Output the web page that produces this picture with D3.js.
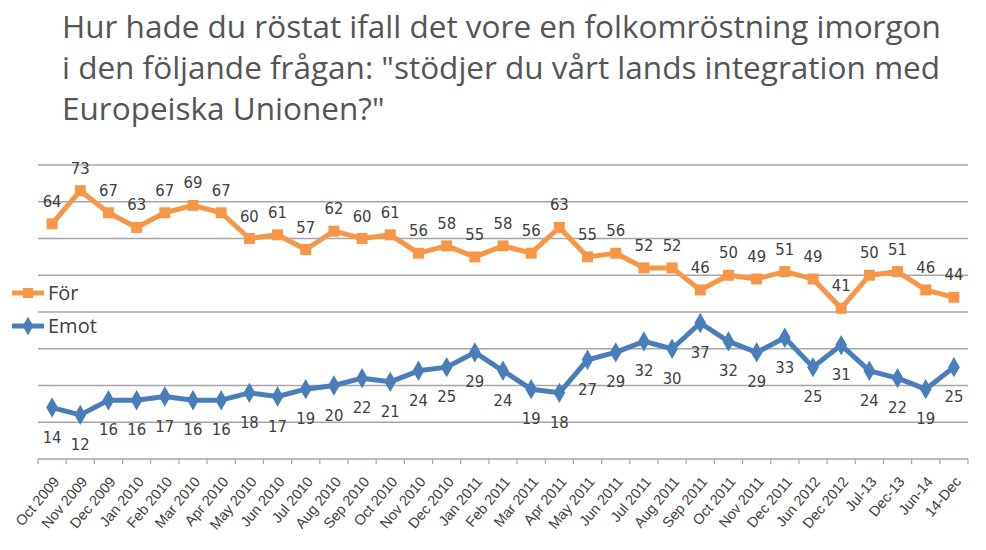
<!DOCTYPE html>
<html>
<head>
<meta charset="utf-8">
<script src="https://cdn.jsdelivr.net/npm/d3@7"></script>
<style>
  body { margin: 0; background: #fff; }
  svg { display: block; }
</style>
</head>
<body>
<div id="chart"></div>
<script>
// categories and values
const months = ["Oct 2009","Nov 2009","Dec 2009","Jan 2010","Feb 2010","Mar 2010","Apr 2010","May 2010","Jun 2010","Jul 2010","Aug 2010","Sep 2010","Oct 2010","Nov 2010","Dec 2010","Jan 2011","Feb 2011","Mar 2011","Apr 2011","May 2011","Jun 2011","Jul 2011","Aug 2011","Sep 2011","Oct 2011","Nov 2011","Dec 2011","Jun 2012","Dec 2012","Jul-13","Dec-13","Jun-14","14-Dec"];
const forVals = [64,73,67,63,67,69,67,60,61,57,62,60,61,56,58,55,58,56,63,55,56,52,52,46,50,49,51,49,41,50,51,46,44];
const emotVals = [14,12,16,16,17,16,16,18,17,19,20,22,21,24,25,29,24,19,18,27,29,32,30,37,32,29,33,25,31,24,22,19,25];
const titleLines = ["Hur hade du röstat ifall det vore en folkomröstning imorgon",
  "i den följande frågan: \"stödjer du vårt lands integration med",
  "Europeiska Unionen?\""];
const gridTicks = [0,10,20,30,40,50,60,70,80];

const W = 986, H = 550;
const margin = {top: 165, right: 18, bottom: 91, left: 38};

const svg = d3.select("#chart").append("svg")
  .attr("width", W).attr("height", H);

// title
svg.append("g").selectAll("text")
  .data(titleLines)
  .join("text")
    .attr("x", 62)
    .attr("y", (d, i) => 38 + i * 41)
    .attr("font-family", "'Open Sans', sans-serif")
    .attr("font-size", 31.5)
    .attr("fill", "#555")
    .text(d => d);

const x = d3.scaleBand()
  .domain(months)
  .range([margin.left, W - margin.right]);

const y = d3.scaleLinear()
  .domain([0, 80])
  .range([H - margin.bottom, margin.top]);

// gridlines
svg.append("g").selectAll("line")
  .data(gridTicks.slice(1))
  .join("line")
    .attr("x1", margin.left).attr("x2", W - margin.right)
    .attr("y1", d => y(d)).attr("y2", d => y(d))
    .attr("stroke", "#a6a6a6")
    .attr("stroke-width", 1.5);

// x axis, ticks between categories like Excel
const xAxis = svg.append("g")
  .attr("transform", `translate(0, ${y(0)})`);
xAxis.append("line")
  .attr("x1", margin.left).attr("x2", W - margin.right)
  .attr("stroke", "#a6a6a6").attr("stroke-width", 1.5);
xAxis.selectAll(".tk")
  .data(months.concat(["end"]))
  .join("line")
    .attr("class", "tk")
    .attr("x1", (d, i) => margin.left + i * x.step())
    .attr("x2", (d, i) => margin.left + i * x.step())
    .attr("y1", 0).attr("y2", 5)
    .attr("stroke", "#a6a6a6").attr("stroke-width", 1.2);
xAxis.selectAll(".lbl")
  .data(months)
  .join("text")
    .attr("class", "lbl")
    .attr("transform", d => `translate(${x(d) + x.bandwidth() / 2 + 8}, 23) rotate(-50)`)
    .attr("text-anchor", "end")
    .attr("font-family", "'Liberation Sans', Arial, sans-serif")
    .attr("font-size", 14.5)
    .attr("fill", "#404040")
    .text(d => d);

const cx = (d, i) => x(months[i]) + x.bandwidth() / 2;

const series = [
  {name: "För", values: forVals, color: "#f79646", marker: "square", dy: -17},
  {name: "Emot", values: emotVals, color: "#4a7ebb", marker: "diamond", dy: 35}
];

const line = d3.line()
  .x(cx)
  .y(d => y(d));

series.forEach(s => {
  const g = svg.append("g");
  g.append("path")
    .datum(s.values)
    .attr("fill", "none")
    .attr("stroke", s.color)
    .attr("stroke-width", 5)
    .attr("stroke-linejoin", "round")
    .attr("d", line);

  const sym = s.marker === "square" ? d3.symbolSquare : d3.symbolDiamond;
  g.selectAll("path.mk")
    .data(s.values)
    .join("path")
      .attr("class", "mk")
      .attr("transform", (d, i) => `translate(${cx(d, i)}, ${y(d)})`)
      .attr("d", d3.symbol(sym, 120))
      .attr("fill", s.color);

  g.selectAll("text")
    .data(s.values)
    .join("text")
      .attr("x", cx)
      .attr("y", d => y(d) + s.dy)
      .attr("text-anchor", "middle")
      .attr("font-family", "'Liberation Sans Narrow', 'DejaVu Sans Condensed', sans-serif")
      .attr("font-size", 16.5)
      .attr("fill", "#404040")
      .text(d => d);
});

// legend
const legend = svg.append("g");
const lg = legend.selectAll("g")
  .data(series)
  .join("g")
    .attr("transform", (d, i) => `translate(12, ${293 + i * 33})`);
lg.append("line")
  .attr("x1", 0).attr("x2", 32)
  .attr("stroke", d => d.color).attr("stroke-width", 5);
lg.append("path")
  .attr("transform", "translate(16,0)")
  .attr("d", d => d3.symbol(d.marker === "square" ? d3.symbolSquare : d3.symbolDiamond, 100)())
  .attr("fill", d => d.color);
lg.append("text")
  .attr("x", 36)
  .attr("y", 7)
  .attr("font-family", "'Open Sans', sans-serif")
  .attr("font-size", 20)
  .attr("fill", "#404040")
  .text(d => d.name);
</script>
</body>
</html>
